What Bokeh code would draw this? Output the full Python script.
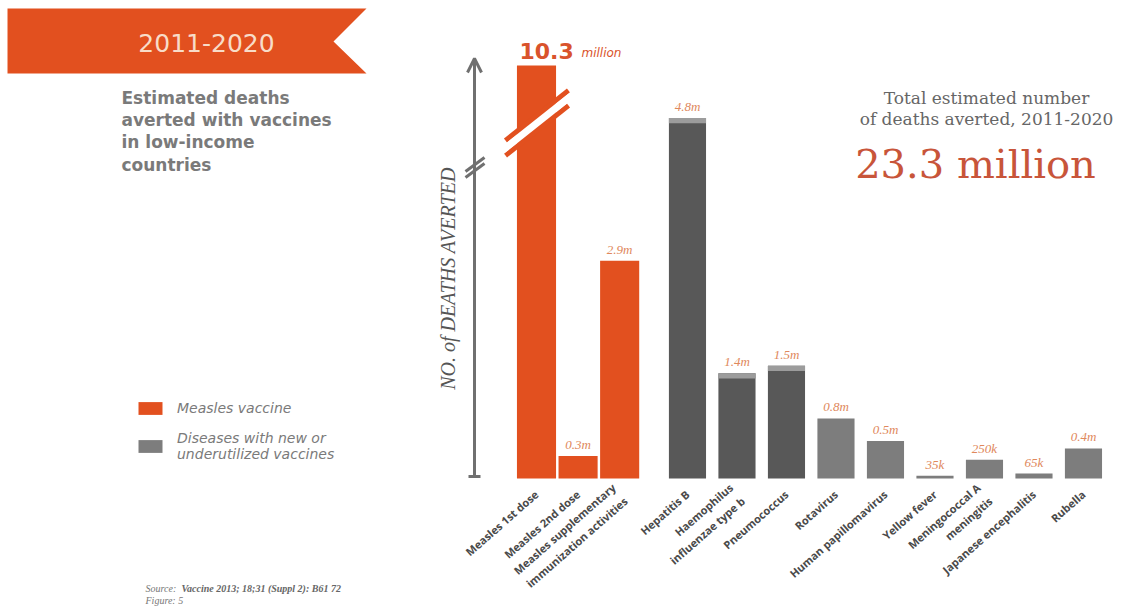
from math import pi
from bokeh.plotting import figure
from bokeh.models import (Range1d, FixedTicker, Label, LabelSet, ColumnDataSource,
                          Arrow, OpenHead, TeeHead, PolyAnnotation, Legend, LegendItem)
from bokeh.embed import file_html
from bokeh.resources import INLINE

# ---------------- data ----------------
measles_names = ["Measles 1st dose", "Measles 2nd dose",
                 "Measles supplementary\nimmunization activities"]
measles_values = [10.3, 0.3, 2.9]            # millions of deaths averted
measles_labels = ["10.3", "0.3m", "2.9m"]

new_names = ["Hepatitis B", "Haemophilus\ninfluenzae type b", "Pneumococcus", "Rotavirus",
             "Human papillomavirus", "Yellow fever", "Meningococcal A\nmeningitis",
             "Japanese encephalitis", "Rubella"]
new_values = [4.8, 1.4, 1.5, 0.8, 0.5, 0.035, 0.25, 0.065, 0.4]
new_labels = ["4.8m", "1.4m", "1.5m", "0.8m", "0.5m", "35k", "250k", "65k", "0.4m"]

total_text = "23.3 million"

# ---------------- layout / style constants ----------------
W, H = 1126, 608
BASE_PX = 478          # page row of the bars' baseline
X0_PX = 536            # page column of the first bar centre
UNIT_PX = 49.5         # pixels per category step
PX_PER_M = 75.1        # pixels per million deaths
Y_BREAK = 5.5          # value axis is broken above this
MEASLES_STEP = 0.84
NEW_START = 3.05
ORANGE = "#e2501f"
DARK = "#585858"
MID = "#7d7d7d"
CAP = "#9c9c9c"
LABEL_C = "#e0885c"
AXIS_C = "#707070"
DARK_SET = {"Hepatitis B", "Haemophilus\ninfluenzae type b", "Pneumococcus"}
CAP_H = 0.07

x_measles = [round(i * MEASLES_STEP, 4) for i in range(len(measles_names))]
x_new = [round(NEW_START + j, 4) for j in range(len(new_names))]

p = figure(width=W, height=H, output_backend="svg", toolbar_location=None,
           x_range=Range1d(-X0_PX / UNIT_PX, (W - X0_PX) / UNIT_PX),
           y_range=Range1d(-(H - BASE_PX) / PX_PER_M, BASE_PX / PX_PER_M),
           min_border=0, min_border_left=0, min_border_right=0,
           min_border_top=0, min_border_bottom=0)
p.outline_line_color = None
p.background_fill_color = "white"
p.border_fill_color = "white"
p.xgrid.visible = False
p.ygrid.visible = False
p.yaxis.visible = False


def sx(px):
    return px


def sy(py):
    return H - py


# ---------------- bars ----------------
disp_m = [min(v, Y_BREAK) for v in measles_values]
src_m = ColumnDataSource(dict(x=x_measles, top=disp_m))
r_measles = p.vbar(x="x", top="top", width=0.79, source=src_m,
                   fill_color=ORANGE, line_color=None)

dark_idx = [i for i, n in enumerate(new_names) if n in DARK_SET]
mid_idx = [i for i, n in enumerate(new_names) if n not in DARK_SET]
src_d = ColumnDataSource(dict(x=[x_new[i] for i in dark_idx],
                              top=[new_values[i] for i in dark_idx],
                              cap=[new_values[i] - CAP_H for i in dark_idx]))
src_n = ColumnDataSource(dict(x=[x_new[i] for i in mid_idx],
                              top=[new_values[i] for i in mid_idx]))
p.vbar(x="x", top="top", width=0.75, source=src_d, fill_color=DARK, line_color=None)
p.vbar(x="x", top="top", bottom="cap", width=0.75, source=src_d, fill_color=CAP, line_color=None)
r_mid = p.vbar(x="x", top="top", width=0.75, source=src_n, fill_color=MID, line_color=None)

# value labels
lab_src = ColumnDataSource(dict(x=x_measles[1:] + x_new,
                                y=disp_m[1:] + new_values,
                                t=measles_labels[1:] + new_labels))
p.add_layout(LabelSet(x="x", y="y", text="t", source=lab_src, y_offset=4,
                      text_align="center", text_baseline="bottom",
                      text_font="DejaVu Sans", text_font_style="italic",
                      text_font_size="13px", text_color=LABEL_C))

# ---------------- category axis ----------------
xa = p.xaxis[0]
xa.fixed_location = 0
xa.ticker = FixedTicker(ticks=x_measles + x_new)
xa.major_label_overrides = {x: n for x, n in zip(x_measles + x_new, measles_names + new_names)}
xa.axis_line_color = None
xa.major_tick_line_color = None
xa.minor_tick_line_color = None
xa.major_label_orientation = 0.72
xa.major_label_standoff = 8
xa.major_label_text_font = "Open Sans"
xa.major_label_text_font_style = "bold"
xa.major_label_text_font_size = "11px"
xa.major_label_text_color = "#4a4a4a"


def lab(px, py, text, **kw):
    p.add_layout(Label(x=sx(px), y=sy(py), text=text, x_units="screen", y_units="screen", **kw))


def seg(x0, y0, x1, y1, color, w):
    p.add_layout(Arrow(x_start=sx(x0), y_start=sy(y0), x_end=sx(x1), y_end=sy(y1),
                       start_units="screen", end_units="screen", start=None, end=None,
                       line_color=color, line_width=w))


# broken first bar
seg(505, 140, 568, 90, ORANGE, 5)
seg(505, 155, 568, 105, ORANGE, 5)
seg(500, 151.5, 573, 93.5, "white", 7)

lab(519, 50, measles_labels[0], text_font="DejaVu Sans", text_font_style="bold",
    text_font_size="22px", text_color="#d9532c", text_baseline="middle")
lab(581, 52, "million", text_font="DejaVu Sans", text_font_style="italic",
    text_font_size="12px", text_color="#d9532c", text_baseline="middle")

# value axis: arrow, break mark and title
p.add_layout(Arrow(x_start=sx(474), y_start=sy(476), x_end=sx(474), y_end=sy(58),
                   start_units="screen", end_units="screen", line_color=AXIS_C, line_width=3,
                   start=TeeHead(size=12, line_color=AXIS_C, line_width=3),
                   end=OpenHead(size=14, line_color=AXIS_C, line_width=3)))
seg(465, 171, 484, 157, AXIS_C, 3)
seg(465, 177, 484, 163, AXIS_C, 3)
lab(447, 278, "NO. of DEATHS AVERTED", text_font="Liberation Serif", text_font_style="italic",
    text_font_size="20px", text_color="#555555", angle=pi / 2,
    text_align="center", text_baseline="middle")

# ---------------- left panel ----------------
p.add_layout(PolyAnnotation(xs=[sx(v) for v in [7, 366, 333, 366, 7]],
                            ys=[sy(v) for v in [8, 8, 41, 73, 73]],
                            xs_units="screen", ys_units="screen",
                            fill_color=ORANGE, fill_alpha=1, line_color=None))
lab(206, 42, "2011-2020", text_font="DejaVu Sans", text_font_size="25px",
    text_color="#f8dcc8", text_align="center", text_baseline="middle")
lab(121, 87, "Estimated deaths\naverted with vaccines\nin low-income\ncountries",
    text_font="DejaVu Sans", text_font_style="bold", text_font_size="17px",
    text_color="#7a7a7a", text_baseline="top", text_line_height=1.12)

legend = Legend(items=[LegendItem(label="Measles vaccine", renderers=[r_measles]),
                       LegendItem(label="Diseases with new or\nunderutilized vaccines", renderers=[r_mid])],
                location=(sx(135), sy(462)), orientation="vertical",
                glyph_width=30, glyph_height=16, label_standoff=12, spacing=14,
                padding=0, margin=0, background_fill_alpha=0, border_line_alpha=0,
                label_text_font="DejaVu Sans", label_text_font_style="italic",
                label_text_font_size="14px", label_text_color="#7a7a7a",
                label_text_line_height=1.1)
p.add_layout(legend)

lab(145, 588, "Source:", text_font="Liberation Serif", text_font_style="italic",
    text_font_size="10px", text_color="#777777", text_baseline="middle")
lab(181, 588, "Vaccine 2013; 18;31 (Suppl 2): B61 72", text_font="Liberation Serif",
    text_font_style="bold italic", text_font_size="10px", text_color="#666666",
    text_baseline="middle")
lab(145, 600, "Figure: 5", text_font="Liberation Serif", text_font_style="italic",
    text_font_size="10px", text_color="#777777", text_baseline="middle")

# ---------------- total ----------------
lab(986, 87, "Total estimated number\nof deaths averted, 2011-2020", text_font="DejaVu Serif",
    text_font_size="17px", text_color="#666666", text_align="center", text_baseline="top",
    text_line_height=1.08)
lab(975, 163, total_text, text_font="DejaVu Serif", text_font_size="40px",
    text_color="#c8553a", text_align="center", text_baseline="middle")

open("out.html", "w").write(file_html(p, INLINE))
